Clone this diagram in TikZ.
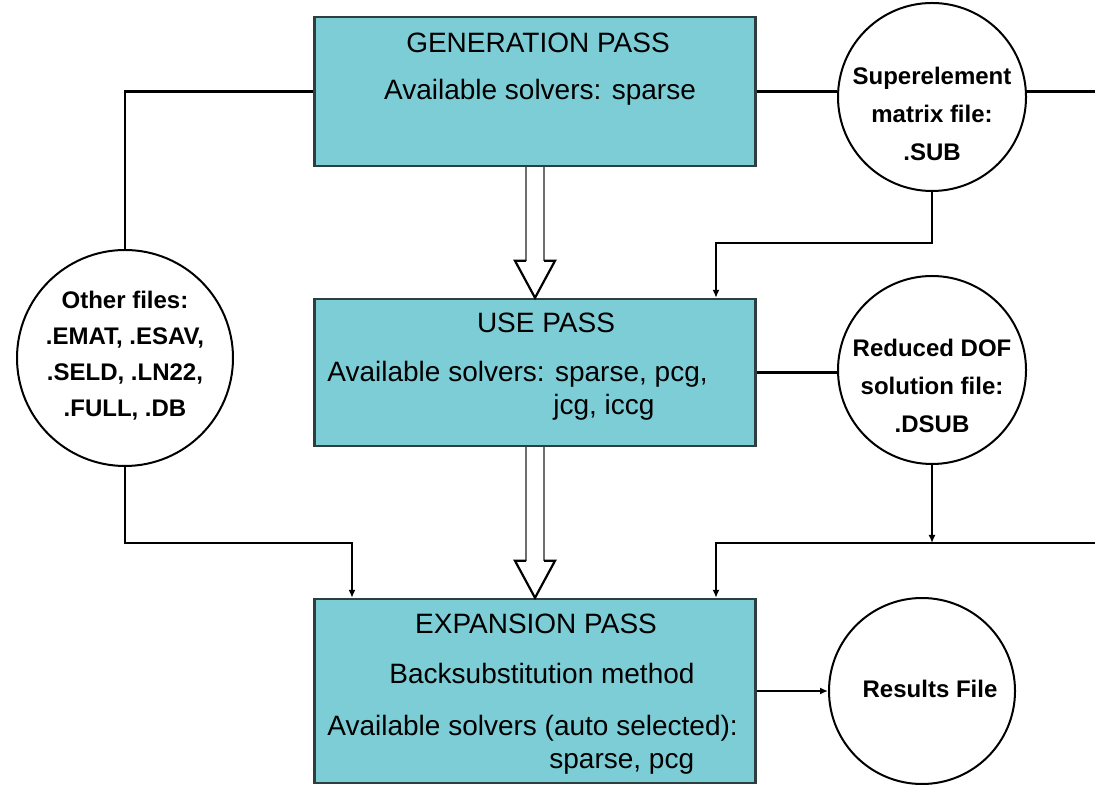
\documentclass[tikz,border=0pt]{standalone}
\usepackage{fontspec}
\setmainfont{Liberation Sans}
\usepackage{tikz}
\usetikzlibrary{calc,arrows.meta}
\definecolor{passfill}{RGB}{125,205,214}
\definecolor{passedge}{RGB}{45,62,62}
\definecolor{shaftgrey}{RGB}{110,110,110}
\tikzset{%
    passbox/.style={%
        draw=passedge, line width=1.2pt, fill=passfill,
        minimum width=220.5pt, minimum height=#1, inner sep=0pt},
    filecircle/.style={%
        circle, draw=black, line width=1pt, fill=white,
        minimum size=#1, inner sep=0pt},
    passtext/.style={font=\fontsize{14}{16}\selectfont, inner sep=0pt},
    filetext/.style={font=\bfseries\fontsize{12}{19}\selectfont, align=center, inner sep=0pt},
    wire/.style={draw=black, line width=1.1pt},
    feed/.style={wire, -{Latex[length=4pt,width=3.5pt]}},
    shaft/.style={draw=shaftgrey, line width=1.1pt},
    hollowhead/.style={draw=black, line width=1.1pt, line join=miter}
}
\begin{document}
\begin{tikzpicture}[x=0.5pt,y=0.5pt]
    \useasboundingbox (0,0) rectangle (1095,786);
%    the three passes
    \node[passbox=74.5pt] (gen) at (535,694.5) {};
    \node[passtext, anchor=base] (gentitle) at (538,733) {GENERATION PASS};
    \node[passtext, anchor=base] (gensolvers) at (540,686) {Available solvers: sparse};
    \node[passbox=73.5pt] (use) at (535,413.5) {};
    \node[passtext, anchor=base] (usetitle) at (546,453) {USE PASS};
    \node[passtext, anchor=base west] (usesolvers) at (327,404) {Available solvers: sparse, pcg,};
    \node[passtext, anchor=base west] (usesolvers2) at (553,371) {jcg, iccg};
    \node[passbox=92pt] (exp) at (535,95) {};
    \node[passtext, anchor=base] (exptitle) at (536,152) {EXPANSION PASS};
    \node[passtext, anchor=base] (expmethod) at (542,103) {Backsubstitution method};
    \node[passtext, anchor=base west] (expsolvers) at (327,51) {Available solvers (auto selected):};
    \node[passtext, anchor=base west] (expsolvers2) at (549,18) {sparse, pcg};
%    the files
    \node[filecircle=108pt] (other) at (125,428) {};
    \node[filetext, font=\bfseries\fontsize{12}{18}\selectfont] (othertext) at (125,430) {Other files:\\.EMAT, .ESAV,\\.SELD, .LN22,\\.FULL, .DB};
    \node[filecircle=94pt] (sub) at (932,689) {};
    \node[filetext] (subtext) at (932,672) {Superelement\\matrix file:\\.SUB};
    \node[filecircle=94pt] (dsub) at (932,416) {};
    \node[filetext] (dsubtext) at (932,400) {Reduced DOF\\solution file:\\.DSUB};
    \node[filecircle=93pt] (res) at (922,95) {};
    \node[filetext] (restext) at (930,97) {Results File};
%    hollow arrows between passes
    \draw[shaft] ($(gen.south)+(-9,0)$) -- ($(use.north)+(-9,37)$);
    \draw[shaft] ($(gen.south)+(9,0)$) -- ($(use.north)+(9,37)$);
    \draw[hollowhead] ($(use.north)+(-9,37)$) -- ++(-11,0) -- (use.north) -- ($(use.north)+(20,37)$) -- ++(-11,0);
    \draw[shaft] ($(use.south)+(-9,0)$) -- ($(exp.north)+(-9,37)$);
    \draw[shaft] ($(use.south)+(9,0)$) -- ($(exp.north)+(9,37)$);
    \draw[hollowhead] ($(exp.north)+(-9,37)$) -- ++(-11,0) -- (exp.north) -- ($(exp.north)+(20,37)$) -- ++(-11,0);
%    file connections
    \coordinate (topedge) at (1095,694.5);
    \coordinate (lowedge) at (1095,243);
    \coordinate (subturn) at (716,543);
    \coordinate (dsubturn) at (716,243);
    \coordinate (otherturn) at (352,243);
    \draw[wire] (gen.west) -| (other.north);
    \draw[wire] (gen.east) -- (gen.east -| sub.west);
    \draw[wire] (topedge -| sub.east) -- (topedge);
    \draw[feed] (sub.south) |- (subturn) -- (subturn |- use.north);
    \draw[wire] (use.east) -- (use.east -| dsub.west);
    \draw[feed] (dsub.south) -- (dsub.south |- lowedge);
    \draw[feed] (lowedge) -- (dsubturn) -- (dsubturn |- exp.north);
    \draw[feed] (other.south) |- (otherturn) -- (otherturn |- exp.north);
    \draw[feed] (exp.east) -- (res.west);
\end{tikzpicture}
\end{document}
